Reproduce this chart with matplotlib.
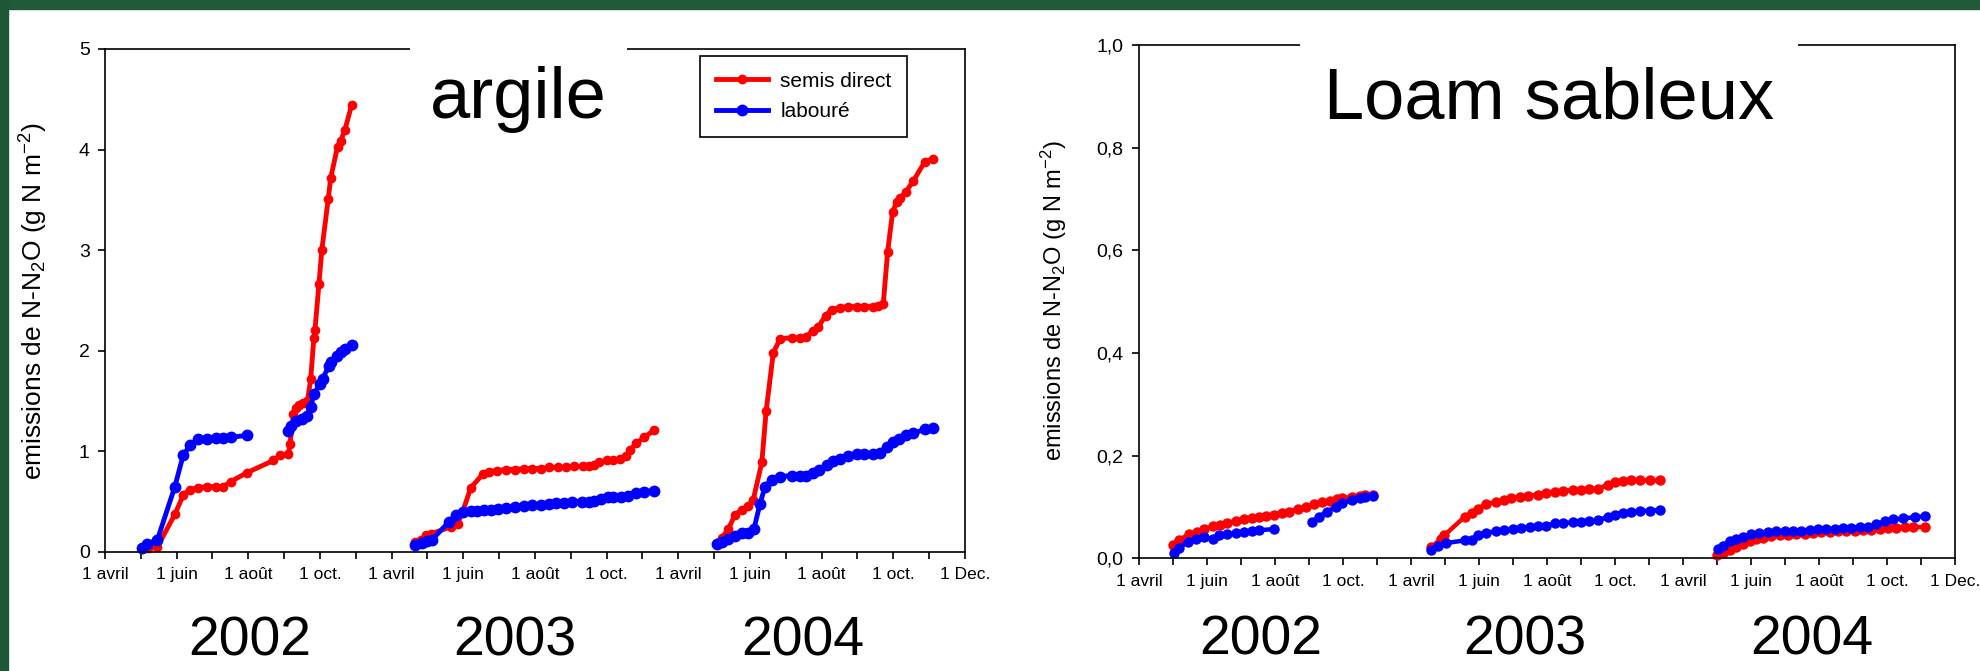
import matplotlib.pyplot as plt
from matplotlib.patches import Rectangle
from matplotlib.transforms import blended_transform_factory

plt.rcParams['font.family'] = ['Liberation Sans', 'DejaVu Sans']
plt.rcParams['mathtext.fontset'] = 'custom'
plt.rcParams['mathtext.rm'] = 'Liberation Sans'
plt.rcParams['mathtext.default'] = 'regular'

# x = months after 1 avril of each season (1 avril = 0, 1 Dec. = 8)
years = ['2002', '2003', '2004']
tick_labels = ['1 avril', '', '1 juin', '', '1 août', '', '1 oct.', ''] * 3 + ['1 Dec.']
ylabel = 'emissions de N-N$_2$O (g N m$^{-2}$)'

# ---- argile, semis direct
arg_sd_02_m = [1.02, 1.2, 1.46, 1.95, 2.19, 2.37, 2.60, 2.86, 3.09, 3.30, 3.51, 3.97, 4.70, 4.88, 5.12, 5.16,
               5.26, 5.32, 5.41, 5.53, 5.65, 5.74, 5.83, 5.86, 5.97, 6.05, 6.23, 6.30, 6.49, 6.58, 6.69, 6.88]
arg_sd_02_v = [0.03, 0.04, 0.05, 0.375, 0.57, 0.62, 0.64, 0.65, 0.65, 0.65, 0.70, 0.79, 0.91, 0.96, 0.97, 1.07,
               1.37, 1.43, 1.46, 1.48, 1.50, 1.72, 2.13, 2.21, 2.66, 3.00, 3.51, 3.72, 4.03, 4.09, 4.19, 4.44]
arg_sd_03_m = [0.65, 0.81, 0.95, 1.09, 1.65, 1.84, 1.98, 2.21, 2.56, 2.72, 2.95, 3.19, 3.45, 3.70, 3.93, 4.17,
               4.40, 4.63, 4.86, 5.10, 5.33, 5.52, 5.66, 5.80, 6.00, 6.17, 6.37, 6.54, 6.65, 6.82, 7.05, 7.32]
arg_sd_03_v = [0.095, 0.115, 0.17, 0.18, 0.25, 0.28, 0.40, 0.64, 0.78, 0.80, 0.81, 0.82, 0.82, 0.83, 0.83, 0.83,
               0.84, 0.84, 0.84, 0.85, 0.85, 0.85, 0.86, 0.89, 0.91, 0.91, 0.92, 0.95, 1.01, 1.08, 1.14, 1.21]
arg_sd_04_m = [1.07, 1.21, 1.40, 1.58, 1.77, 1.95, 2.09, 2.33, 2.45, 2.65, 2.84, 3.16, 3.40, 3.55, 3.77, 3.91, 4.11,
               4.28, 4.51, 4.74, 4.98, 5.18, 5.44, 5.58, 5.72, 5.84, 5.98, 6.09, 6.20, 6.35, 6.56, 6.88, 7.12]
arg_sd_04_v = [0.086, 0.14, 0.23, 0.37, 0.42, 0.46, 0.52, 0.89, 1.40, 1.98, 2.12, 2.13, 2.13, 2.14, 2.20, 2.24, 2.35,
               2.41, 2.43, 2.44, 2.44, 2.44, 2.44, 2.45, 2.47, 2.98, 3.38, 3.48, 3.52, 3.58, 3.69, 3.88, 3.91]

# ---- argile, labouré (2002 has a gap in August)
arg_lab_02a_m = [1.02, 1.18, 1.46, 1.95, 2.18, 2.37, 2.60, 2.86, 3.09, 3.30, 3.51, 3.97]
arg_lab_02a_v = [0.04, 0.08, 0.12, 0.65, 0.96, 1.06, 1.12, 1.12, 1.13, 1.13, 1.14, 1.16]
arg_lab_02b_m = [5.12, 5.18, 5.32, 5.51, 5.65, 5.74, 5.83, 6.00, 6.07, 6.25, 6.32, 6.47, 6.58, 6.69, 6.88]
arg_lab_02b_v = [1.20, 1.25, 1.30, 1.32, 1.35, 1.44, 1.57, 1.67, 1.72, 1.85, 1.89, 1.95, 1.99, 2.02, 2.06]
arg_lab_03_m = [0.65, 0.86, 1.00, 1.12, 1.60, 1.79, 2.00, 2.21, 2.37, 2.58, 2.77, 2.97, 3.19, 3.45, 3.70, 3.93,
                4.17, 4.38, 4.59, 4.82, 5.03, 5.31, 5.52, 5.66, 5.84, 6.03, 6.19, 6.40, 6.59, 6.82, 7.05, 7.32]
arg_lab_03_v = [0.066, 0.09, 0.105, 0.12, 0.30, 0.37, 0.40, 0.41, 0.41, 0.42, 0.42, 0.43, 0.44, 0.45, 0.46, 0.47,
                0.47, 0.48, 0.49, 0.49, 0.50, 0.50, 0.50, 0.51, 0.53, 0.55, 0.55, 0.55, 0.56, 0.59, 0.60, 0.61]
arg_lab_04_m = [1.07, 1.21, 1.40, 1.58, 1.77, 1.95, 2.11, 2.28, 2.42, 2.60, 2.84, 3.16, 3.40, 3.55, 3.77, 3.93,
                4.14, 4.33, 4.51, 4.74, 4.98, 5.18, 5.44, 5.63, 5.81, 6.00, 6.17, 6.35, 6.56, 6.88, 7.12]
arg_lab_04_v = [0.076, 0.10, 0.13, 0.16, 0.19, 0.19, 0.23, 0.48, 0.65, 0.72, 0.75, 0.76, 0.76, 0.76, 0.79, 0.82,
                0.86, 0.90, 0.92, 0.95, 0.97, 0.97, 0.97, 0.98, 1.04, 1.09, 1.12, 1.16, 1.18, 1.22, 1.23]

# ---- loam sableux, semis direct
loam_sd_02_m = [1.01, 1.19, 1.46, 1.70, 1.92, 2.17, 2.38, 2.60, 2.85, 3.09, 3.32, 3.53, 3.75, 3.97, 4.20, 4.41,
                4.68, 4.90, 5.14, 5.39, 5.63, 5.82, 5.97, 6.26, 6.51, 6.65, 6.87]
loam_sd_02_v = [0.027, 0.036, 0.047, 0.052, 0.057, 0.063, 0.066, 0.069, 0.073, 0.076, 0.078, 0.081, 0.083, 0.085,
                0.088, 0.091, 0.097, 0.100, 0.106, 0.109, 0.112, 0.115, 0.117, 0.120, 0.122, 0.123, 0.124]
loam_sd_03_m = [0.60, 0.88, 0.98, 1.58, 1.78, 1.97, 2.21, 2.51, 2.75, 2.95, 3.20, 3.44, 3.74, 3.98, 4.23, 4.47,
                4.77, 5.01, 5.25, 5.50, 5.79, 5.99, 6.24, 6.48, 6.73, 7.02, 7.31]
loam_sd_03_v = [0.022, 0.038, 0.045, 0.081, 0.089, 0.097, 0.106, 0.110, 0.113, 0.117, 0.120, 0.122, 0.124, 0.128,
                0.130, 0.132, 0.133, 0.134, 0.135, 0.136, 0.143, 0.148, 0.150, 0.152, 0.152, 0.152, 0.152]
loam_sd_04_m = [1.00, 1.18, 1.37, 1.57, 1.76, 1.96, 2.16, 2.35, 2.60, 2.84, 3.09, 3.33, 3.58, 3.82, 4.07, 4.31,
                4.56, 4.80, 5.05, 5.29, 5.54, 5.78, 6.03, 6.27, 6.52, 6.76, 7.11]
loam_sd_04_v = [0.006, 0.010, 0.016, 0.022, 0.029, 0.034, 0.038, 0.040, 0.043, 0.045, 0.046, 0.047, 0.048, 0.050,
                0.051, 0.052, 0.053, 0.054, 0.054, 0.055, 0.056, 0.058, 0.060, 0.060, 0.061, 0.061, 0.061]

# ---- loam sableux, labouré
loam_lab_02a_m = [1.04, 1.19, 1.43, 1.68, 1.92, 2.17, 2.36, 2.60, 2.85, 3.09, 3.32, 3.53, 3.97]
loam_lab_02a_v = [0.010, 0.021, 0.032, 0.038, 0.042, 0.037, 0.045, 0.047, 0.050, 0.051, 0.053, 0.055, 0.057]
loam_lab_02b_m = [5.09, 5.29, 5.53, 5.78, 5.97, 6.26, 6.51, 6.65, 6.87]
loam_lab_02b_v = [0.070, 0.081, 0.091, 0.100, 0.108, 0.113, 0.117, 0.119, 0.121]
loam_lab_03_m = [0.60, 0.80, 1.04, 1.58, 1.78, 1.97, 2.21, 2.51, 2.75, 3.00, 3.24, 3.49, 3.74, 3.98, 4.23, 4.47,
                 4.77, 5.01, 5.25, 5.50, 5.79, 5.99, 6.24, 6.48, 6.73, 7.02, 7.31]
loam_lab_03_v = [0.016, 0.025, 0.030, 0.035, 0.036, 0.045, 0.050, 0.053, 0.055, 0.057, 0.059, 0.061, 0.063, 0.064,
                 0.068, 0.069, 0.070, 0.071, 0.072, 0.074, 0.081, 0.085, 0.089, 0.091, 0.092, 0.093, 0.094]
loam_lab_04_m = [1.03, 1.18, 1.37, 1.57, 1.76, 2.01, 2.25, 2.50, 2.75, 2.99, 3.24, 3.48, 3.73, 3.97, 4.22, 4.46,
                 4.71, 4.95, 5.20, 5.44, 5.69, 5.93, 6.18, 6.47, 6.81, 7.11]
loam_lab_04_v = [0.019, 0.025, 0.034, 0.038, 0.042, 0.047, 0.050, 0.051, 0.053, 0.053, 0.054, 0.054, 0.056, 0.057,
                 0.057, 0.058, 0.059, 0.060, 0.061, 0.062, 0.067, 0.072, 0.076, 0.078, 0.080, 0.082]

RED, BLUE = '#ff0000', '#0000ff'


def plot_segments(ax, segs, color, lw, ms):
    lines = []
    for yr, m, v in segs:
        # each season takes 8 months on the shared axis
        line, = ax.plot([x + 8 * yr for x in m], v, '-o', color=color, lw=lw, ms=ms,
                        mec=color, clip_on=False)
        lines.append(line)
    return lines[0]


def style_axes(ax, ymax, yticks, ylabels, title, title_x, title_y, title_pad):
    ax.set_xlim(0, 24)
    ax.set_ylim(0, ymax)
    ax.set_xticks(range(25))
    ax.set_xticklabels(tick_labels, fontsize=12.5)
    ax.set_yticks(yticks)
    ax.set_yticklabels(ylabels, fontsize=14)
    ax.tick_params(direction='out', length=5, width=1.2, pad=6)
    for s in ax.spines.values():
        s.set_linewidth(1.2)
    ax.text(title_x, title_y, title, transform=ax.transAxes, ha='center', va='baseline',
            fontsize=52, zorder=5,
            bbox=dict(boxstyle='square,pad=%.2f' % title_pad, fc='white', ec='none'))


def year_labels(ax, xs, ypos):
    tr = blended_transform_factory(ax.transData, ax.transAxes)
    for x, yr in zip(xs, years):
        ax.text(x, ypos, yr, transform=tr, ha='center', va='baseline', fontsize=40, clip_on=False)


fig = plt.figure(figsize=(19.81, 6.71), dpi=100)

# green slide frame
fig.patches.append(Rectangle((0, 1 - 9 / 671), 1, 9 / 671, transform=fig.transFigure,
                             color='#1f5a3b', zorder=0))
fig.patches.append(Rectangle((0, 0), 8 / 1981, 1, transform=fig.transFigure,
                             color='#1d5637', zorder=0))

# left: argile
ax1 = fig.add_axes([105 / 1981, 1 - 552 / 671, 860 / 1981, 503 / 671])
l_sd = plot_segments(ax1, [(0, arg_sd_02_m, arg_sd_02_v), (1, arg_sd_03_m, arg_sd_03_v),
                           (2, arg_sd_04_m, arg_sd_04_v)], RED, 3.5, 6)
l_lab = plot_segments(ax1, [(0, arg_lab_02a_m, arg_lab_02a_v), (0, arg_lab_02b_m, arg_lab_02b_v),
                            (1, arg_lab_03_m, arg_lab_03_v), (2, arg_lab_04_m, arg_lab_04_v)],
                      BLUE, 3.5, 7.5)
style_axes(ax1, 5, range(6), [str(i) for i in range(6)], 'argile', 0.481, 0.863, 0.28)
year_labels(ax1, [4.05, 11.44, 19.47], -0.205)
leg = ax1.legend([l_sd, l_lab], ['semis direct', 'labouré'], loc='upper left',
                 bbox_to_anchor=(0.692, 0.986), borderaxespad=0, fontsize=15, fancybox=False,
                 edgecolor='black', framealpha=1, handlelength=2.5, labelspacing=0.55,
                 borderpad=0.75, handletextpad=0.6)
leg.get_frame().set_linewidth(1.2)
fig.text(34 / 1981, 1 - 301 / 671, ylabel, rotation=90, ha='center', va='center', fontsize=19)

# right: loam sableux
ax2 = fig.add_axes([1139 / 1981, 1 - 558.4 / 671, 816 / 1981, 513.6 / 671])
plot_segments(ax2, [(0, loam_sd_02_m, loam_sd_02_v), (1, loam_sd_03_m, loam_sd_03_v),
                    (2, loam_sd_04_m, loam_sd_04_v)], RED, 3.2, 6.5)
plot_segments(ax2, [(0, loam_lab_02a_m, loam_lab_02a_v), (0, loam_lab_02b_m, loam_lab_02b_v),
                    (1, loam_lab_03_m, loam_lab_03_v), (2, loam_lab_04_m, loam_lab_04_v)], BLUE, 3.2, 6.5)
yt = [0, 0.2, 0.4, 0.6, 0.8, 1.0]
style_axes(ax2, 1.0, yt, [('%.1f' % v).replace('.', ',') for v in yt],
           'Loam sableux', 0.502, 0.857, 0.33)
year_labels(ax2, [3.59, 11.34, 19.8], -0.188)
fig.text(1054 / 1981, 1 - 301 / 671, ylabel, rotation=90, ha='center', va='center', fontsize=17)

fig.savefig('out.png', dpi=100)
